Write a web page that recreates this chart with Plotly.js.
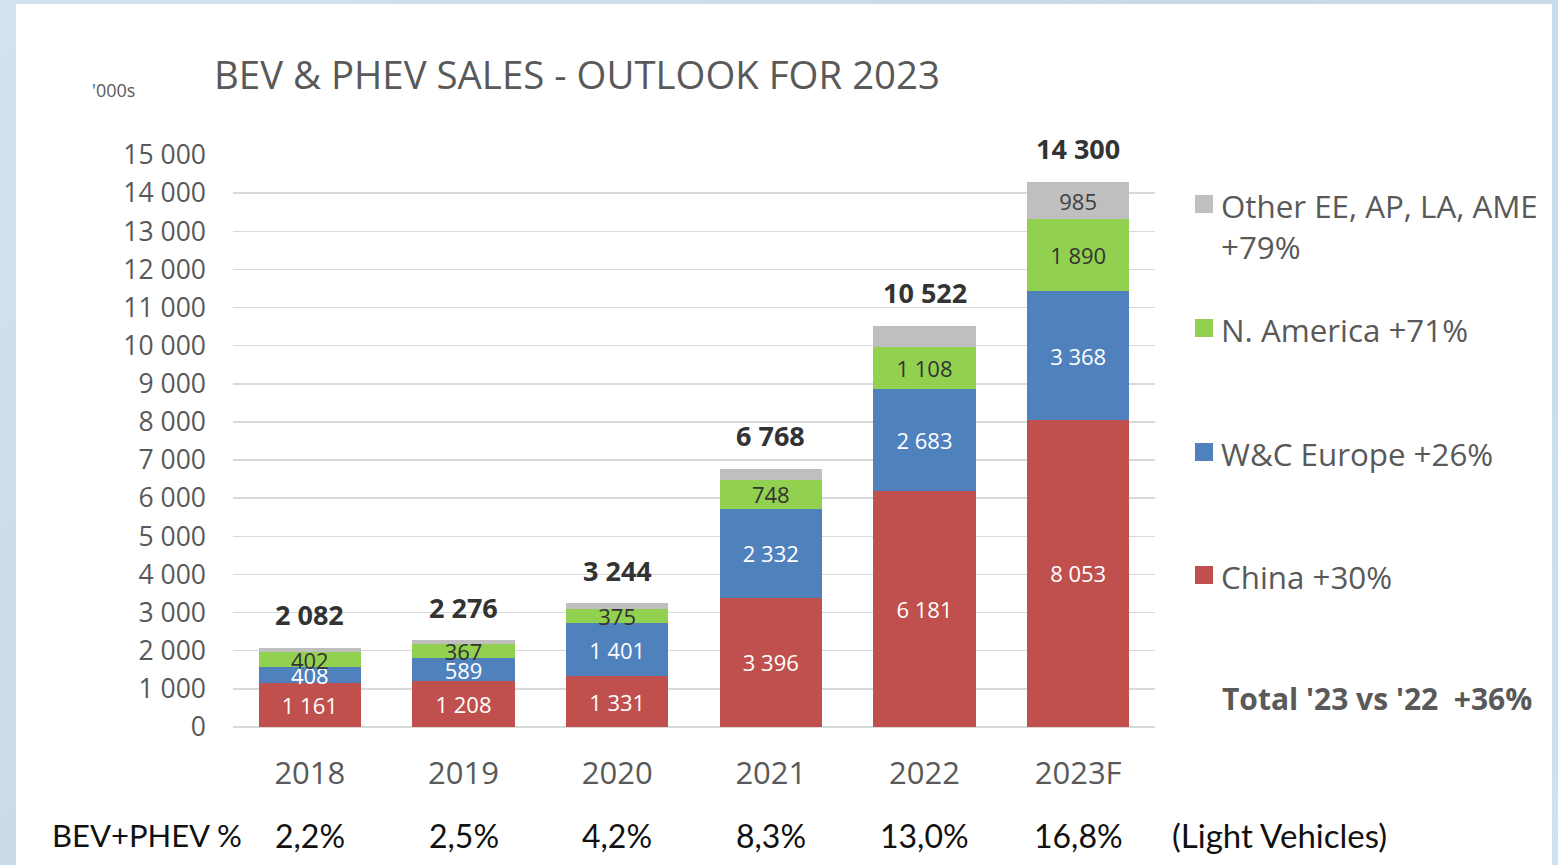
<!DOCTYPE html>
<html>
<head>
<meta charset="utf-8">
<script src="https://cdn.plot.ly/plotly-3.0.1.min.js"></script>
<style>
  html, body { margin: 0; padding: 0; width: 1558px; height: 865px; overflow: hidden;
    background: linear-gradient(135deg, #d3e2ee 0%, #c6d9e7 50%, #d0e0ec 100%); }
  #chart { position: absolute; left: 16px; top: 4px; width: 1536px; height: 861px; background: #ffffff; }
</style>
</head>
<body>
<div id="chart"></div>
<script>
// ---- data ----
const years = ['2018', '2019', '2020', '2021', '2022', '2023F'];
const china = [1161, 1208, 1331, 3396, 6181, 8053];
const europe = [408, 589, 1401, 2332, 2683, 3368];
const northAmerica = [402, 367, 375, 748, 1108, 1890];
const other = [111, 112, 137, 292, 550, 985];
const totals = [2082, 2276, 3244, 6768, 10522, 14300];
const evShare = ['2,2%', '2,5%', '4,2%', '8,3%', '13,0%', '16,8%'];
const seriesNames = ['China +30%', 'W&C Europe +26%', 'N. America +71%', 'Other EE, AP, LA, AME<br>+79%'];
const totalGrowth = "Total '23 vs '22  +36%";

// ---- layout helpers (page pixels -> paper coords) ----
const DIV_L = 16, DIV_T = 4;
const M = { l: 217, r: 397, t: 151, b: 138 };
const PW = 1536 - M.l - M.r, PH = 861 - M.t - M.b;
const px = x => (x - DIV_L - M.l) / PW;
const py = y => (861 - M.b - (y - DIV_T)) / PH;

const fmt = v => String(v).replace(/\B(?=(\d{3})+(?!\d))/g, ' ');

const colors = ['#c0504d', '#4f81bd', '#92d050', '#bfbfbf'];
const series = [china, europe, northAmerica, other];
const textColors = ['#ffffff', '#ffffff', '#333333', '#404040'];
const mainFont = 'Open Sans, sans-serif';
const rowFont = 'Lato, sans-serif';

const traces = series.map((vals, k) => ({
  type: 'bar',
  x: years,
  y: vals,
  name: seriesNames[k],
  marker: { color: colors[k], line: { width: 0 } },
  text: vals.map((v, i) => (k === 3 && i !== vals.length - 1) ? '' : fmt(v)),
  textposition: 'inside',
  insidetextanchor: 'middle',
  textangle: 0,
  textfont: { family: mainFont, size: 22, color: textColors[k] },
  hoverinfo: 'x+y+name',
  showlegend: false
}));

const annotations = [];
// totals above bars + share row (category index used as x)
years.forEach((yr, i) => {
  annotations.push({
    x: i, y: totals[i], xref: 'x', yref: 'y', yanchor: 'middle', yshift: 33,
    text: '<b>' + fmt(totals[i]) + '</b>', showarrow: false,
    font: { family: mainFont, size: 27, color: '#333333' }
  });
  annotations.push({
    x: i, y: py(835), xref: 'x', yref: 'paper', yanchor: 'middle', xanchor: 'center',
    text: evShare[i], showarrow: false,
    font: { family: rowFont, size: 32, color: '#111111' }
  });
});
annotations.push({
  x: px(50), y: py(835), xref: 'paper', yref: 'paper', xanchor: 'left', yanchor: 'middle',
  text: 'BEV+PHEV %', showarrow: false, font: { family: rowFont, size: 31, color: '#111111' }
});
annotations.push({
  x: px(1170), y: py(835), xref: 'paper', yref: 'paper', xanchor: 'left', yanchor: 'middle',
  text: '(Light Vehicles)', showarrow: false, font: { family: rowFont, size: 33, color: '#111111' }
});
annotations.push({
  x: px(90), y: py(90), xref: 'paper', yref: 'paper', xanchor: 'left', yanchor: 'middle',
  text: "'000s", showarrow: false, font: { family: mainFont, size: 18, color: '#595959' }
});

// legend (custom, right side)
const legendY = [575, 452, 328, 204];
const shapes = [];
seriesNames.forEach((nm, k) => {
  annotations.push({
    x: px(1219), y: py(legendY[k] - 21), xref: 'paper', yref: 'paper', xanchor: 'left', yanchor: 'top',
    text: nm, align: 'left', showarrow: false,
    font: { family: mainFont, size: 31.3, color: '#595959' }
  });
  shapes.push({
    type: 'rect', xref: 'paper', yref: 'paper',
    x0: px(1195), x1: px(1213), y0: py(legendY[k] - 9), y1: py(legendY[k] + 9),
    fillcolor: colors[k], line: { width: 0 }
  });
});
annotations.push({
  x: px(1220), y: py(698), xref: 'paper', yref: 'paper', xanchor: 'left', yanchor: 'middle',
  text: '<b>' + totalGrowth + '</b>', showarrow: false,
  font: { family: mainFont, size: 30, color: '#595959' }
});

const layout = {
  width: 1536, height: 861,
  margin: M,
  paper_bgcolor: '#ffffff',
  plot_bgcolor: '#ffffff',
  barmode: 'stack',
  bargap: 0.336,
  separators: ', ',
  showlegend: false,
  uniformtext: { mode: 'show', minsize: 22 },
  title: {
    text: 'BEV & PHEV SALES - OUTLOOK FOR 2023',
    x: (214 - DIV_L) / 1536, xanchor: 'left', xref: 'container',
    y: 1 - (76 - DIV_T) / 861, yanchor: 'middle', yref: 'container',
    font: { family: mainFont, size: 38.4, color: '#595959' }
  },
  xaxis: {
    type: 'category',
    range: [-0.5, 5.5],
    showgrid: false, zeroline: false, showline: false,
    ticks: '', ticklabelstandoff: 25,
    tickfont: { family: mainFont, size: 31, color: '#595959' },
    fixedrange: true
  },
  yaxis: {
    range: [0, 15000],
    dtick: 1000, tick0: 0,
    tickformat: ',d',
    showgrid: true, gridcolor: '#d9d9d9', gridwidth: 1.5,
    zeroline: true, zerolinecolor: '#d9d9d9', zerolinewidth: 1.5,
    showline: false, ticks: '', ticklabelstandoff: 26,
    tickfont: { family: mainFont, size: 26.5, color: '#595959' },
    fixedrange: true
  },
  annotations: annotations,
  shapes: shapes
};

Plotly.newPlot('chart', traces, layout, { displayModeBar: false, staticPlot: true });
</script>
</body>
</html>
